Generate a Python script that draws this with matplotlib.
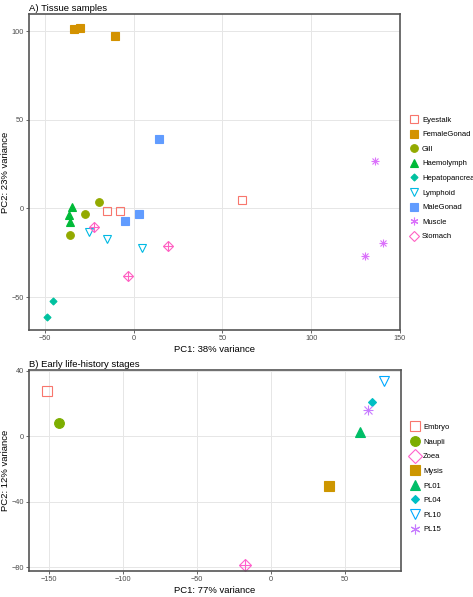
import matplotlib.pyplot as plt
from matplotlib.lines import Line2D

# panel A: tissue samples
tissues = ['Eyestalk', 'FemaleGonad', 'Gill', 'Haemolymph', 'Hepatopancreas',
           'Lymphoid', 'MaleGonad', 'Muscle', 'Stomach']
tissue_pc1 = [[-15, -8, 61], [-33.5, -30.5, -10.7], [-19.3, -27.5, -35.8],
              [-34.7, -36.7, -36], [-45.7, -48.7], [-25.4, -15.3, 4.5],
              [-5, 3, 14], [135.8, 140.4, 130.3], [-22.6, -3.2, 19.3]]
tissue_pc2 = [[-1.3, -1.3, 4.9], [101, 101.5, 97], [3.8, -3, -14.8],
              [0.7, -3.6, -7.7], [-52.3, -61], [-13.5, -17.3, -22.4],
              [-7.3, -3.4, 39], [26.9, -19.5, -26.9], [-10.5, -38.3, -21.4]]

# panel B: early life-history stages
stages = ['Embryo', 'Naupli', 'Zoea', 'Mysis', 'PL01', 'PL04', 'PL10', 'PL15']
stage_pc1 = [-151.6, -143.2, -17.6, 39.4, 60, 68.4, 76.5, 65.7]
stage_pc2 = [27.8, 8.3, -79, -30.4, 2.4, 21, 33.5, 16]

# style: (marker, colour, filled)
tissue_style = [('s', '#F8766D', False), ('s', '#D39200', True), ('o', '#93AA00', True),
                ('^', '#00BA38', True), ('D', '#00C19F', True), ('v', '#00B9E3', False),
                ('s', '#619CFF', True), ('ast', '#DB72FB', False), ('dplus', '#FF61C3', False)]
stage_style = [('s', '#F8766D', False), ('o', '#7CAE00', True), ('dplus', '#FF61CC', False),
               ('s', '#CD9600', True), ('^', '#00BE67', True), ('D', '#00BFC4', True),
               ('v', '#00A9FF', False), ('ast', '#C77CFF', False)]

plt.rcParams['font.family'] = 'Liberation Sans'


def draw(ax, x, y, style, ms):
	m, c, filled = style
	if m == 'ast':
		ax.plot(x, y, ls='none', marker='+', ms=ms * 1.1, mec=c, mew=0.8)
		ax.plot(x, y, ls='none', marker='x', ms=ms * 0.8, mec=c, mew=0.8)
	elif m == 'dplus':
		ax.plot(x, y, ls='none', marker='D', ms=ms * 0.85, mfc='none', mec=c, mew=0.8)
		ax.plot(x, y, ls='none', marker='+', ms=ms * 1.2, mec=c, mew=0.8)
	else:
		size = ms * 0.65 if m == 'D' else ms
		ax.plot(x, y, ls='none', marker=m, ms=size, mfc=c if filled else 'none',
				mec=c, mew=0.8)


def handle(style, ms):
	m, c, filled = style
	if m == 'ast':
		m = (6, 2, 0)
	elif m == 'dplus':
		m = 'D'
	size = ms * 0.65 if m == 'D' and filled else ms
	return Line2D([], [], ls='none', marker=m, ms=size, mfc=c if filled else 'none',
				  mec=c, mew=0.8)


def style_axes(ax):
	ax.grid(True, color='#e6e6e6', lw=0.7)
	ax.set_axisbelow(True)
	for s in ax.spines.values():
		s.set_color('#555555')
		s.set_linewidth(1.2)
	ax.tick_params(labelsize=5.3, colors='#4d4d4d', length=2, width=0.6, pad=1.5)


fig = plt.figure(figsize=(4.73, 5.97), dpi=100)
axA = fig.add_axes([29 / 473, 1 - 330 / 597, 371 / 473, 316 / 597])
axB = fig.add_axes([29 / 473, 1 - 571 / 597, 372 / 473, 201 / 597])

for i, t in enumerate(tissues):
	draw(axA, tissue_pc1[i], tissue_pc2[i], tissue_style[i], 5.5)
axA.set_xlim(-59, 150)
axA.set_ylim(-68.6, 109.6)
axA.set_xticks([-50, 0, 50, 100, 150])
axA.set_yticks([-50, 0, 50, 100])
axA.set_xlabel('PC1: 38% variance', fontsize=6.8, labelpad=2)
axA.set_ylabel('PC2: 23% variance', fontsize=6.8, labelpad=1)
axA.set_title('A) Tissue samples', fontsize=6.8, loc='left', pad=2)
style_axes(axA)
axA.legend([handle(s, 5.5) for s in tissue_style], tissues, loc='center left',
		   bbox_to_anchor=(1.01, 0.48), frameon=False, fontsize=5.5,
		   handlelength=1, handletextpad=0.5, labelspacing=0.95)

for i, s in enumerate(stages):
	draw(axB, stage_pc1[i], stage_pc2[i], stage_style[i], 7)
axB.set_xlim(-163.5, 88)
axB.set_ylim(-82.4, 40.5)
axB.set_xticks([-150, -100, -50, 0, 50])
axB.set_yticks([-80, -40, 0, 40])
axB.set_xlabel('PC1: 77% variance', fontsize=6.8, labelpad=2)
axB.set_ylabel('PC2: 12% variance', fontsize=6.8, labelpad=1)
axB.set_title('B) Early life-history stages', fontsize=6.8, loc='left', pad=2)
style_axes(axB)
axB.legend([handle(s, 7) for s in stage_style], stages, loc='center left',
		   bbox_to_anchor=(1.01, 0.46), frameon=False, fontsize=5.5,
		   handlelength=1, handletextpad=0.5, labelspacing=0.95)

fig.savefig('out.png', dpi=100)
